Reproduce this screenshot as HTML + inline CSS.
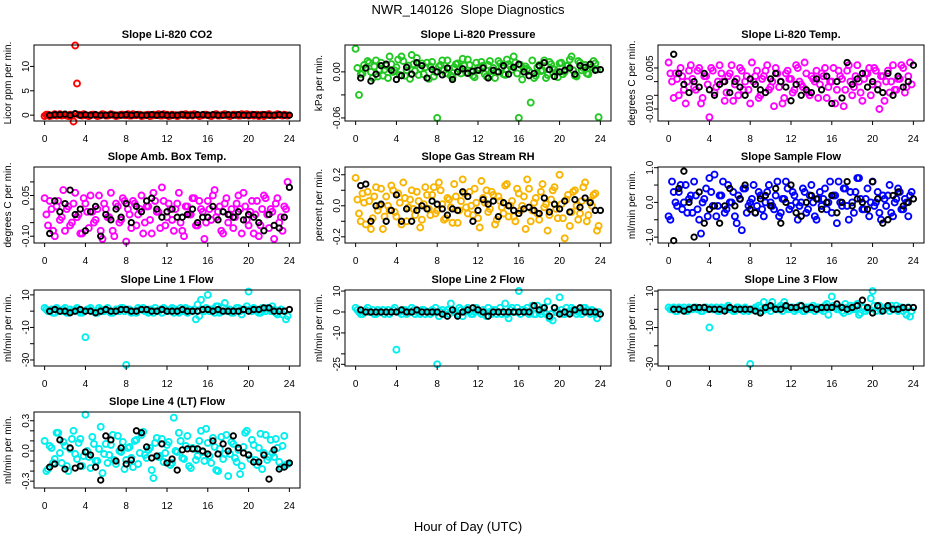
<!DOCTYPE html>
<html><head><meta charset="utf-8"><style>
html,body{margin:0;padding:0;background:#fff;}
svg{display:block;font-family:"Liberation Sans",Arial,sans-serif;}
</style></head><body>
<svg id="chart" width="936" height="540" viewBox="0 0 936 540" xmlns="http://www.w3.org/2000/svg">
<text x="468" y="14" text-anchor="middle" font-size="13">NWR_140126&#160; Slope Diagnostics</text>
<text x="468" y="531" text-anchor="middle" font-size="13">Hour of Day (UTC)</text>
</svg>
<script>
const xA=[0,0.33,0.67,1,1.33,1.67,2,2.33,2.67,3,3.33,3.67,4,4.33,4.67,5,5.33,5.67,6,6.33,6.67,7,7.33,7.67,8,8.33,8.67,9,9.33,9.67,10,10.33,10.67,11,11.33,11.67,12,12.33,12.67,13,13.33,13.67,14,14.33,14.67,15,15.33,15.67,16,16.33,16.67,17,17.33,17.67,18,18.33,18.67,19,19.33,19.67,20,20.33,20.67,21,21.33,21.67,22,22.33,22.67,23,23.33,23.67];
const xB=[0.17,0.5,0.83,1.17,1.5,1.83,2.17,2.5,2.83,3.17,3.5,3.83,4.17,4.5,4.83,5.17,5.5,5.83,6.17,6.5,6.83,7.17,7.5,7.83,8.17,8.5,8.83,9.17,9.5,9.83,10.17,10.5,10.83,11.17,11.5,11.83,12.17,12.5,12.83,13.17,13.5,13.83,14.17,14.5,14.83,15.17,15.5,15.83,16.17,16.5,16.83,17.17,17.5,17.83,18.17,18.5,18.83,19.17,19.5,19.83,20.17,20.5,20.83,21.17,21.5,21.83,22.17,22.5,22.83,23.17,23.5,23.83];
const xK=[0.5,1,1.5,2,2.5,3,3.5,4,4.5,5,5.5,6,6.5,7,7.5,8,8.5,9,9.5,10,10.5,11,11.5,12,12.5,13,13.5,14,14.5,15,15.5,16,16.5,17,17.5,18,18.5,19,19.5,20,20.5,21,21.5,22,22.5,23,23.5,24];
const xTicks=[0,4,8,12,16,20,24];

const co2A=[-2,1,-1,2,0,-1,1,-2,0,143,1,-1,0,-2,1,0,-1,2,-1,0,1,-2,0,1,0,-1,2,0,1,-1,0,-2,1,0,-1,2,1,-1,0,-2,1,0,-1,1,2,0,-1,1,0,-2,1,-1,0,2,-1,0,1,-1,2,0,-1,1,0,-2,1,0,2,-1,0,1,-1,0];
const co2B=[1,-2,0,-1,2,0,-1,1,-13,65,0,2,-1,0,1,-2,0,1,-1,2,0,-1,1,0,2,-1,0,1,-2,0,1,-1,0,2,-1,0,-2,1,0,-1,1,2,0,-1,1,-2,0,1,-1,0,2,-1,1,0,-2,1,0,-1,1,2,0,-1,1,0,-2,1,0,-1,2,0,1,-1];
const co2K=[0,1,1,2,0,3,0,1,0,1,0,0,1,0,0,1,0,1,0,0,1,0,1,0,0,0,1,0,0,1,1,0,1,0,0,1,0,1,0,0,1,0,1,0,0,1,0,0];

const presA=[30,-30,-2,5,12,-8,15,3,-5,8,20,0,6,-4,14,2,-9,10,18,4,-3,12,7,-6,-60,9,2,15,-5,6,11,-2,8,16,0,-7,5,13,-3,9,1,-8,14,6,-4,10,3,12,-60,-10,7,1,15,-5,9,2,-8,13,4,0,11,-3,8,16,2,-6,12,5,-2,9,14,3];
const presB=[5,-3,9,14,0,7,-6,12,3,-8,10,2,16,20,-5,8,22,1,-4,11,6,-9,13,0,7,15,-2,4,-7,10,3,17,-1,9,-5,12,2,8,-6,14,5,0,11,-3,16,7,20,-2,9,4,4,-40,-8,6,1,15,-4,10,3,-7,12,0,8,20,-5,14,2,9,-3,6,11,-59];
const presK=[-8,5,-12,-3,8,10,2,-10,-5,6,-3,12,8,-8,3,0,-4,5,-10,0,4,-2,1,2,5,-8,2,0,8,-3,6,10,0,-5,-2,8,12,3,-6,0,2,5,-3,8,6,10,2,3];

const ltA=[7,0,3,-5,2,-8,4,1,-3,5,-6,2,-13,4,-2,6,0,-4,3,-7,1,5,-3,2,-8,0,4,-5,2,6,-2,-9,3,0,-6,4,1,-3,5,-1,7,-4,2,0,-6,3,5,-2,0,-8,4,1,-3,6,-5,2,0,-7,3,5,-1,4,-10,2,0,-4,6,-3,1,5,-2,7];
const ltB=[3,-6,1,5,-3,0,6,-2,4,-8,2,-1,5,-4,0,3,-7,2,6,-1,-5,4,0,-3,7,2,-6,1,4,-3,0,5,-2,-8,3,1,-4,6,0,-2,3,-5,1,4,-1,2,-6,0,5,-3,2,-9,4,0,-2,6,-4,1,3,-5,5,-1,2,-7,4,0,-3,1,6,-4,2,-1];
const ltK=[10,3,-1,-4,0,-2,3,-3,-5,-1,0,-4,0,-2,-5,1,-1,-3,-4,1,3,0,-2,-7,-1,-5,-3,-4,1,-3,2,-8,0,-6,7,-1,1,3,-2,0,-3,-4,3,-5,2,-2,0,6];

const ambA=[4,-6,0,-10,3,-3,-8,1,-5,6,-2,-9,2,-7,-1,-4,5,-11,0,-3,-8,2,-5,4,-12,-2,3,-6,0,-9,1,-4,6,-1,-7,3,-3,0,-8,2,-5,-10,1,-2,4,-6,0,-11,3,-4,7,-1,-8,2,-5,0,-3,5,-9,1,-6,3,-2,-10,0,4,-7,-1,2,-5,-8,0];
const ambB=[-2,3,-8,1,-4,7,0,-6,2,-3,-9,4,-1,5,-5,0,-8,2,-3,6,-10,1,-4,3,0,-7,2,-2,5,-5,1,-9,3,-1,8,-6,2,-4,0,6,-8,1,-2,4,-6,3,-1,-5,0,5,-3,1,-9,4,-2,-7,2,0,6,-4,-1,-9,3,-6,5,-2,0,-11,4,-3,1,10];
const ambK=[-9,3,-1,2,7,-2,0,-8,-1,1,-10,-2,-4,0,-3,2,-5,1,-1,3,4,0,-3,-1,0,-3,-3,-2,0,-5,-3,-3,1,-4,-1,-2,-3,-1,-4,-2,-3,-5,-8,-2,-6,-7,-3,8];

const rhA=[18,-5,8,-12,3,-8,12,0,-15,6,-3,10,-7,2,15,-10,4,-2,9,-14,1,7,-6,12,-3,10,-9,5,-1,14,-11,3,8,-5,0,11,-8,16,2,-4,9,-12,6,-1,13,-7,3,-10,8,0,-15,11,-3,5,-9,14,1,-6,10,-2,20,-8,4,-13,9,0,-5,12,-10,3,7,-16];
const rhB=[4,-10,2,9,-15,6,-3,11,-7,0,13,-4,8,-12,5,-1,10,-6,3,-9,12,-2,7,-5,15,1,-8,4,-11,6,-3,17,-1,9,-6,2,-14,5,10,-2,7,-9,3,-5,14,0,-7,11,-3,6,17,-10,2,-5,9,-1,-16,4,12,-8,1,-21,7,-4,10,-9,3,15,-6,0,8,-13];
const rhK=[13,14,-10,0,1,-10,-3,7,-10,-2,-10,-3,0,-2,3,1,-2,-6,-2,-3,9,6,-10,-3,4,1,3,-7,2,0,-3,-5,-2,-1,-3,-5,5,-4,1,-2,3,-4,4,-1,5,2,-3,-3];

const sfA=[-4,6,0,3,-2,5,1,-3,2,-5,0,4,7,-1,-4,2,6,-2,0,3,-6,1,4,-3,0,5,-1,2,-4,3,0,-2,6,-3,1,4,-1,2,-5,0,3,-2,5,-4,1,-1,4,0,-3,2,6,-1,4,-5,0,3,7,-2,1,-4,6,0,-3,2,-1,5,-4,1,3,-2,0,2];
const sfB=[-5,3,-1,5,0,-3,2,6,-2,-9,1,-4,3,8,-1,2,-3,5,0,-4,2,-8,4,-1,1,-3,3,-2,0,5,-1,2,-4,1,6,-2,3,0,-1,4,-3,2,0,-5,3,1,-2,6,2,-6,0,4,-1,3,-3,7,1,-2,4,0,-1,3,-5,1,2,-3,0,4,-2,1,-4,3];
const sfK=[-11,4,9,0,-10,3,-6,-2,-1,-6,-1,4,-1,1,5,-2,-3,1,2,-1,4,-6,0,5,-3,-4,0,2,1,-2,0,2,-3,0,6,-1,1,0,-2,6,1,-6,-5,2,3,-1,0,1];

const l1A=[2,0,1,-1,1,0,2,-1,0,1,0,-1,-16,1,0,-1,2,0,1,0,-1,1,0,2,-33,1,0,-1,1,2,0,1,-1,0,1,2,0,1,-1,0,2,1,-1,0,1,4,7,0,10,1,-1,3,0,5,1,-1,0,2,-2,1,12,0,1,-1,2,0,1,3,-1,0,-2,-5];
const l1B=[1,0,-1,2,0,1,-1,1,0,2,-1,0,1,2,0,-1,1,0,2,-1,0,1,2,0,1,-1,0,2,1,0,-1,1,2,0,-1,1,0,2,1,-1,0,2,1,0,-5,-3,1,2,0,1,3,-1,2,0,1,-1,2,0,1,3,1,2,0,-1,1,2,0,1,-2,1,0,-3];
const l1K=[0,1,0,0,-1,0,1,0,0,-1,0,1,0,0,1,1,0,0,1,1,0,0,1,0,0,0,1,0,0,0,1,1,0,1,0,0,0,0,1,0,1,1,2,2,0,0,0,1];

const l2A=[2,0,-1,1,0,1,-1,0,1,0,-1,1,-18,0,1,-1,0,1,0,-1,1,0,-1,0,-25,0,-1,1,4,0,-1,1,0,2,-1,0,1,-1,0,2,-1,1,0,-1,4,-3,2,0,10,1,0,-1,3,-1,0,2,-1,-3,-4,0,7,-1,2,0,1,-1,0,2,1,-1,0,-3];
const l2B=[1,-1,0,2,0,-1,1,0,-1,1,0,2,0,-1,1,0,2,-1,0,1,-1,0,1,2,-2,1,0,-1,1,0,2,-2,1,0,-1,2,0,1,-2,0,1,-1,2,0,-1,1,0,2,-1,1,2,0,-1,3,-1,0,5,-1,2,0,1,-1,0,2,1,0,-1,2,0,1,-1,0];
const l2K=[1,0,0,0,0,0,0,0,1,0,0,1,0,0,0,0,-1,-2,1,-2,0,1,2,1,0,-2,0,0,0,0,0,0,0,0,3,1,2,-2,2,-1,0,-1,1,2,0,0,0,-1];

const l3A=[1,0,-1,1,0,-1,1,0,1,0,-1,1,-10,0,1,-1,0,1,0,-1,1,0,-1,0,-30,0,-1,1,4,0,-1,1,0,2,4,0,1,-1,0,2,-1,1,0,-1,1,0,2,-3,7,1,0,-1,3,-1,0,2,-3,1,-1,0,10,-1,2,0,1,-1,0,2,1,-1,-3,-4];
const l3B=[0,1,-1,0,1,-1,0,1,0,-1,1,0,1,0,-1,1,0,2,0,-1,1,0,1,-1,0,1,2,-1,0,1,4,0,1,-1,2,0,1,0,2,-1,1,0,2,1,0,-1,3,1,2,0,1,-2,1,2,0,3,-2,1,0,6,2,1,-1,0,1,2,0,-1,1,0,1,-1];
const l3K=[0,0,-1,0,1,1,1,0,0,0,-1,1,0,0,0,0,-1,-2,1,2,0,0,2,1,1,2,0,1,0,1,1,1,3,1,0,1,2,5,1,-2,2,-1,2,0,0,1,1,1];

const l4A=[10,-18,3,-8,18,-12,5,-20,12,-3,8,-15,36,-6,14,-10,2,-22,7,-4,16,-13,0,9,-9,4,-16,11,-2,19,-7,3,-27,13,-5,-11,6,-14,33,-1,10,-8,15,-17,2,-5,20,-10,8,-12,4,-20,14,-3,-25,9,-7,1,-15,18,-4,11,-9,3,-18,16,-6,-2,12,-11,5,-14];
const l4B=[-20,5,-12,18,-2,9,-15,2,20,-8,12,-5,0,-17,7,-10,24,-3,-12,6,-9,15,-1,-18,3,-7,10,-13,16,-4,1,-19,8,-6,12,-2,9,-12,0,18,-7,5,-15,3,-9,10,-1,22,-5,13,-19,2,-8,16,-3,7,-11,-23,4,20,-8,6,-14,17,-2,-9,11,-6,3,-16,15,-13];
const l4K=[-16,-13,11,-18,3,-17,-15,-1,-4,-16,-29,15,11,-10,3,-13,-9,20,18,4,-7,-5,7,-12,-8,-19,1,2,2,2,0,-3,10,-3,7,0,15,3,-2,-4,-11,-11,-4,-28,1,-18,-16,-12];

const panels=[
 {name:'co2',title:'Slope Li-820 CO2',ylab:'Licor ppm per min.',col:0,row:0,unit:0.1,ymin:-1.2,ymax:14.4,ticks:[0,5,10],labels:['0','5','10'],color:'#ff0000',a:co2A,b:co2B,k:co2K},
 {name:'pressure',title:'Slope Li-820 Pressure',ylab:'kPa per min.',col:1,row:0,unit:0.001,ymin:-0.064,ymax:0.035,ticks:[-0.06,-0.03,0],labels:['-0.06','','0.00'],color:'#22c822',a:presA,b:presB,k:presK},
 {name:'li820-temp',title:'Slope Li-820 Temp.',ylab:'degrees C per min.',col:2,row:0,unit:0.001,ymin:-0.0144,ymax:0.0134,ticks:[-0.01,-0.005,0,0.005],labels:['-0.010','','','0.005'],color:'#ff00ff',a:ltA,b:ltB,k:ltK},
 {name:'amb-box-temp',title:'Slope Amb. Box Temp.',ylab:'degrees C per min.',col:0,row:1,unit:0.01,ymin:-0.125,ymax:0.155,ticks:[-0.1,-0.05,0,0.05,0.1],labels:['-0.10','','','0.05',''],color:'#ff00ff',a:ambA,b:ambB,k:ambK},
 {name:'gas-stream-rh',title:'Slope Gas Stream RH',ylab:'percent per min.',col:1,row:1,unit:0.01,ymin:-0.24,ymax:0.25,ticks:[-0.2,-0.1,0,0.1,0.2],labels:['-0.2','','0.0','','0.2'],color:'#f8b400',a:rhA,b:rhB,k:rhK},
 {name:'sample-flow',title:'Slope Sample Flow',ylab:'ml/min per min.',col:2,row:1,unit:0.1,ymin:-1.17,ymax:1.02,ticks:[-1,-0.5,0,0.5,1],labels:['-1.0','','0.0','','1.0'],color:'#0000ff',a:sfA,b:sfB,k:sfK},
 {name:'line1-flow',title:'Slope Line 1 Flow',ylab:'ml/min per min.',col:0,row:2,unit:1,ymin:-33.7,ymax:13,ticks:[-30,-20,-10,0,10],labels:['-30','','-10','','10'],color:'#00eeee',a:l1A,b:l1B,k:l1K},
 {name:'line2-flow',title:'Slope Line 2 Flow',ylab:'ml/min per min.',col:1,row:2,unit:1,ymin:-25.8,ymax:10.5,ticks:[-25,-20,-10,0,10],labels:['-25','','-10','0','10'],color:'#00eeee',a:l2A,b:l2B,k:l2K},
 {name:'line3-flow',title:'Slope Line 3 Flow',ylab:'ml/min per min.',col:2,row:2,unit:1,ymin:-31.1,ymax:10.6,ticks:[-30,-20,-10,0,10],labels:['-30','','-10','','10'],color:'#00eeee',a:l3A,b:l3B,k:l3K},
 {name:'line4-flow',title:'Slope Line 4 (LT) Flow',ylab:'ml/min per min.',col:0,row:3,unit:0.01,ymin:-0.368,ymax:0.387,ticks:[-0.3,-0.2,-0.1,0,0.1,0.2,0.3],labels:['-0.3','','','0.0','','','0.3'],color:'#00eeee',a:l4A,b:l4B,k:l4K}
];
const colLeft=[34,345,658], rowTop=[45,167,290,412], PW=266, PH=76;
const NS='http://www.w3.org/2000/svg';
const svg=document.getElementById('chart');
function mk(tag,attrs,parent){const e=document.createElementNS(NS,tag);for(const k in attrs)e.setAttribute(k,attrs[k]);(parent||svg).appendChild(e);return e;}

panels.forEach(p=>{
  const L=colLeft[p.col],T=rowTop[p.row],B=T+PH,R=L+PW;
  const g=mk('g',{});
  
  
  const xs=h=>L+PW*(0.04+0.92*h/24);
  const ys=v=>B-PH*(v-p.ymin)/(p.ymax-p.ymin);
  const t=mk('text',{x:(L+R)/2,y:T-7,'text-anchor':'middle','font-size':11,'font-weight':'bold'},g);
  t.textContent=p.title;
  
  
  const yl=mk('text',{transform:`translate(${L-23},${(T+B)/2}) rotate(-90)`,'text-anchor':'middle','font-size':10},g);
  yl.textContent=p.ylab;
  
  
  const pts=mk('g',{fill:'none'},g);
  
  
  [[xA,p.a],[xB,p.b]].forEach(([xx,yy])=>{
    yy.forEach((v,i)=>{
      const c=mk('circle',{cx:xs(xx[i]).toFixed(1),cy:ys(v*p.unit).toFixed(1),r:3,stroke:p.color,'stroke-width':1.9},pts);
      
      
    });
  });
  const kp=mk('g',{fill:'none'},g);
  
  
  p.k.forEach((v,i)=>{
    const c=mk('circle',{cx:xs(xK[i]).toFixed(1),cy:ys(v*p.unit).toFixed(1),r:2.7,stroke:'#000','stroke-width':1.9},kp);
    
    
  });
  const box=mk('rect',{x:L,y:T,width:PW,height:PH,fill:'none',stroke:'#000','stroke-width':1},g);
  
  
  const xa=mk('g',{},g);
  
  
  mk('line',{x1:xs(0),x2:xs(24),y1:B,y2:B,stroke:'#000'},xa);
  xTicks.forEach(h=>{
    mk('line',{x1:xs(h),x2:xs(h),y1:B,y2:B+4,stroke:'#000'},xa);
    const tl=mk('text',{x:xs(h),y:B+21,'text-anchor':'middle','font-size':10},xa);
    tl.textContent=h;
    
    
  });
  const ya=mk('g',{},g);
  
  
  mk('line',{x1:L,x2:L,y1:ys(p.ticks[0]),y2:ys(p.ticks[p.ticks.length-1]),stroke:'#000'},ya);
  p.ticks.forEach((v,i)=>{
    mk('line',{x1:L-4,x2:L,y1:ys(v),y2:ys(v),stroke:'#000'},ya);
    if(p.labels[i]){
      const tl=mk('text',{transform:`translate(${L-5},${ys(v)}) rotate(-90)`,'text-anchor':'middle','font-size':10},ya);
      tl.textContent=p.labels[i];
      
      
    }
  });
});
</script>
</body></html>
